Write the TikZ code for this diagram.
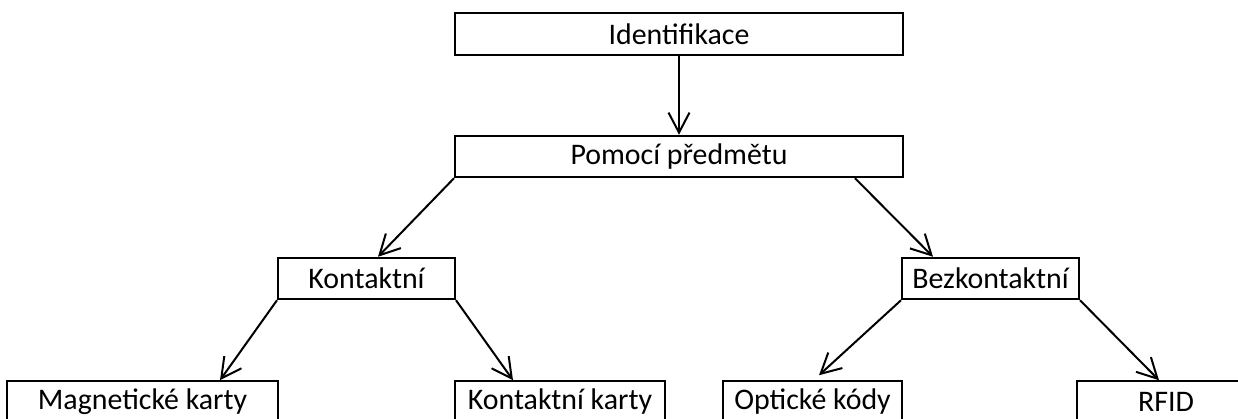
\documentclass[tikz,border=0pt]{standalone}
\usepackage{fontspec}
\setmainfont{Carlito}
\usetikzlibrary{arrows.meta}

\begin{document}
\begin{tikzpicture}[>={Straight Barb[length=0.4cm,width=0.42cm]}]
    \tikzstyle{IDbox}=[rectangle,draw=black,line width=0.04cm,inner sep=0pt,minimum height=0.83cm,font=\fontsize{17}{20}\selectfont]
    \tikzstyle{IDedge}=[->,line width=0.04cm]
    \useasboundingbox (0,0) rectangle (24.76,8.38);
    \clip (0,0) rectangle (24.76,8.38);

    \node[IDbox, minimum width=8.96cm] (ident) at (13.58,7.70) {Identifikace};
    \node[IDbox, minimum width=8.96cm] (pom) at (13.58,5.25) {Pomocí předmětu};

    \node[IDbox, minimum width=3.54cm] (kont) at (7.33,2.81) {Kontaktní};
    \node[IDbox, minimum width=3.54cm] (bez) at (19.81,2.81) {Bezkontaktní};

    % leaves
    \node[IDbox, minimum width=5.42cm] (mag) at (2.85,0.34) {Magnetické karty};
    \node[IDbox, minimum width=4.20cm] (kk) at (11.20,0.34) {Kontaktní karty};
    \node[IDbox, minimum width=3.58cm] (opt) at (16.25,0.34) {Optické kódy};
    \node[IDbox, minimum width=3.56cm] (rfid) at (23.32,0.34) {RFID};

    % edges
    \draw[IDedge] (ident) -- (pom);
    \draw[IDedge] (pom.south west) -- ([xshift=0.23cm]kont.north);
    \draw[IDedge] ([xshift=3.52cm]pom.south) -- ([xshift=-1.15cm]bez.north);
    \draw[IDedge] (kont.south west) -- ([xshift=1.55cm]mag.north);
    \draw[IDedge] (kont.south east) -- ([xshift=-0.94cm]kk.north);
    \draw[IDedge] (bez.south west) -- ([xshift=0.13cm,yshift=0.1cm]opt.north);
    \draw[IDedge] (bez.south east) -- ([xshift=-0.14cm]rfid.north);

\end{tikzpicture}
\end{document}
